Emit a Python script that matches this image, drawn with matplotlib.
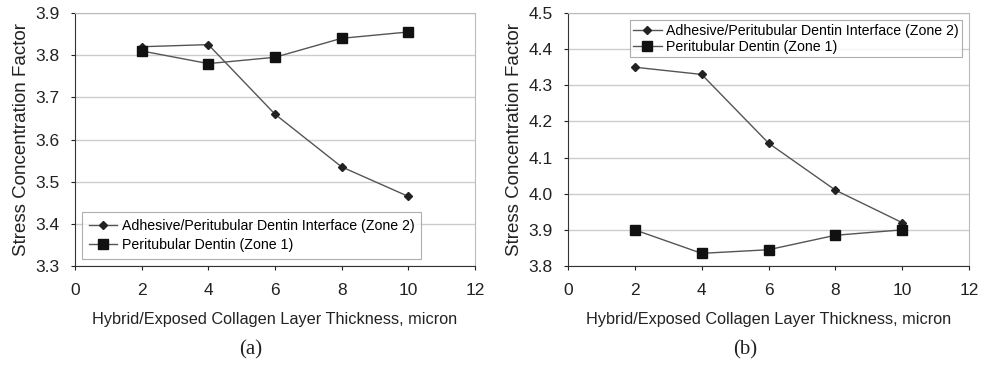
import matplotlib.pyplot as plt

# thickness of hybrid / exposed collagen layer (micron)
thickness = [2, 4, 6, 8, 10]

# panel (a)
zone2_a = [3.82, 3.825, 3.66, 3.535, 3.465]
zone1_a = [3.81, 3.78, 3.795, 3.84, 3.855]

# panel (b)
zone2_b = [4.35, 4.33, 4.14, 4.01, 3.92]
zone1_b = [3.90, 3.835, 3.845, 3.885, 3.90]

label2 = "Adhesive/Peritubular Dentin Interface (Zone 2)"
label1 = "Peritubular Dentin (Zone 1)"
xlabel = "Hybrid/Exposed Collagen Layer Thickness, micron"
ylabel = "Stress Concentration Factor"

plt.rcParams['font.family'] = ['Liberation Sans', 'DejaVu Sans']

W, H = 985, 367
fig = plt.figure(figsize=(W / 100, H / 100), dpi=100)


def make_panel(rect, z2, z1, ylim, yticks, legend_loc, caption, cap_x,
               leg_pad, leg_space):
    ax = fig.add_axes(rect)
    ax.plot(thickness, z2, color='#555555', lw=1.0, marker='D', ms=4.5,
            mfc='#222222', mec='#222222', label=label2)
    ax.plot(thickness, z1, color='#555555', lw=1.0, marker='s', ms=7,
            mfc='#111111', mec='#111111', label=label1)
    ax.set_xlim(0, 12)
    ax.set_xticks(range(0, 13, 2))
    ax.set_ylim(*ylim)
    ax.set_yticks(yticks)
    ax.set_yticklabels([f"{v:.1f}" for v in yticks])
    ax.grid(axis='y', color='#cccccc', lw=1.0)
    ax.set_axisbelow(True)
    for s in ['top', 'right']:
        ax.spines[s].set_color('#bbbbbb')
    for s in ['left', 'bottom']:
        ax.spines[s].set_color('#333333')
    ax.tick_params(direction='out', length=3, labelsize=12.5, colors='#222222')
    ax.tick_params(axis='x', pad=9)
    ax.tick_params(axis='y', pad=8)
    ax.set_xlabel(xlabel, fontsize=11.7, color='#222222', labelpad=10)
    ax.set_ylabel(ylabel, fontsize=13.5, color='#222222', labelpad=4)
    leg = ax.legend(loc=legend_loc, fontsize=10.2, frameon=True, fancybox=False,
                    edgecolor='#999999', handlelength=2.0, handletextpad=0.3,
                    borderpad=leg_pad, labelspacing=leg_space)
    leg.get_frame().set_linewidth(0.8)
    fig.text(cap_x, 0.035, caption, family='Liberation Serif', fontsize=15,
             ha='center', color='#222222')
    return ax


make_panel([75 / W, 1 - 266 / H, 400 / W, 253 / H], zone2_a, zone1_a,
           (3.3, 3.9), [3.3, 3.4, 3.5, 3.6, 3.7, 3.8, 3.9],
           'lower left', '(a)', 251 / W, 0.5, 0.35)
make_panel([568 / W, 1 - 266 / H, 401 / W, 253 / H], zone2_b, zone1_b,
           (3.8, 4.5), [3.8, 3.9, 4.0, 4.1, 4.2, 4.3, 4.4, 4.5],
           'upper right', '(b)', 745 / W, 0.25, 0.15)

fig.savefig('out.png', dpi=100)
